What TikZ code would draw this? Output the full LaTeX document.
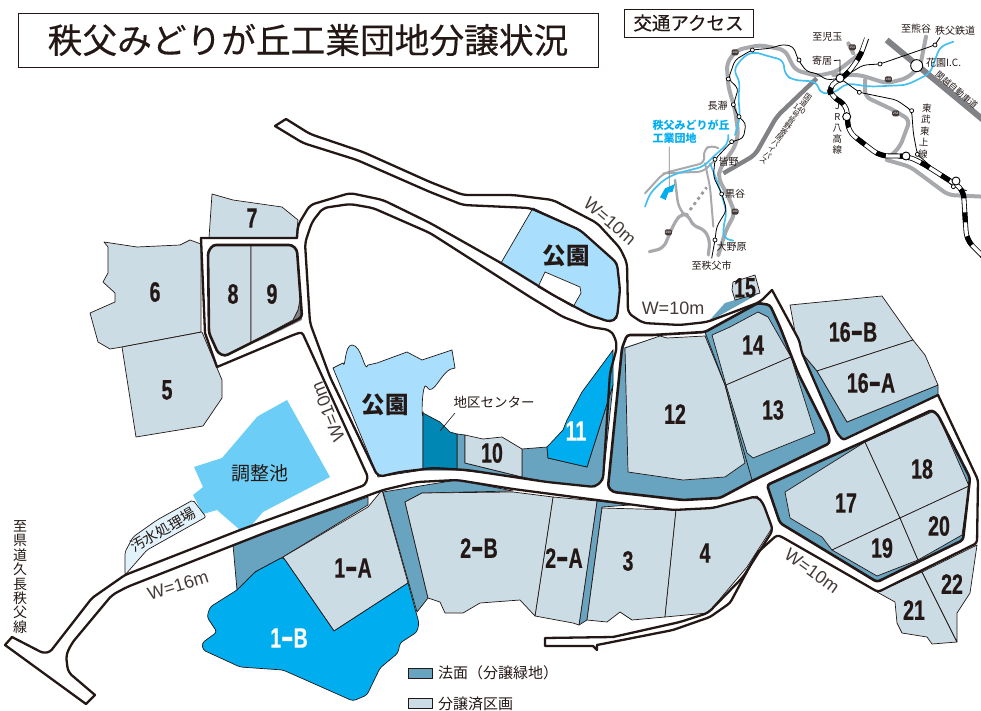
\documentclass[tikz,border=0pt]{standalone}
\usepackage{graphicx}
\usepackage{fontspec}
\setmainfont{Liberation Sans}
\newfontfamily\jp{Noto Sans CJK JP}
\newfontfamily\jpm[FakeBold=0.35]{Noto Sans CJK JP}
\newfontfamily\numf[FakeStretch=0.7,FakeBold=0.5]{Liberation Sans}
\newcommand\fs[1]{\fontsize{#1}{#1}\selectfont}
\newcommand\fsb[2]{\fontsize{#1}{#2}\selectfont}
\newcommand\hy{\scalebox{1.9}[1.2]{-}}
\lineskiplimit=-100pt
\definecolor{lotc}{HTML}{CCDCE5}
\definecolor{slopec}{HTML}{68A3BF}
\definecolor{cyanc}{HTML}{00AEEF}
\definecolor{parkc}{HTML}{A9DFFC}
\definecolor{pondc}{HTML}{6CCDF6}
\definecolor{centerc}{HTML}{0087B4}
\definecolor{inkc}{HTML}{231815}
\definecolor{palec}{HTML}{E1F2FB}
\definecolor{grayr}{HTML}{A7A9AC}
\definecolor{grayd}{HTML}{808285}
\definecolor{riverc}{HTML}{45BFEF}
\tikzset{
 lot/.style={fill=lotc,draw=inkc,line width=.7,line join=round},
 slope/.style={fill=slopec,draw=inkc,line width=.7,line join=round},
 rd/.style={draw=inkc,line width=2.3,line cap=round,line join=round,rounded corners=5},
 blockedge/.style={draw=inkc,line width=2.6,line join=round,rounded corners=3},
 num/.style={font=\numf\bfseries\fs{28},text=inkc,inner sep=0},
 wnum/.style={font=\numf\bfseries\fs{28},text=white,inner sep=0},
 wlab/.style={font=\fs{18},text=inkc!85,inner sep=0},
 parklab/.style={font=\jp\bfseries\fs{23.5},text=inkc,inner sep=0},
 maplab/.style={font=\jp\fs{10},text=inkc,inner sep=0},
 grd/.style={draw=grayr,line width=4,line cap=round,line join=round,rounded corners=6},
 gwide/.style={draw=grayd,line width=4.4,line join=round,rounded corners=6},
 riv/.style={draw=riverc,line width=1.7,line cap=round,line join=round,rounded corners=6},
 rail/.style={draw=black,line width=.8,line join=round,rounded corners=4},
 stn/.style={circle,fill=white,draw=black,line width=.7,inner sep=0,minimum size=4},
 bigstn/.style={circle,fill=white,draw=black,line width=.9,inner sep=0,minimum size=8},
 shield/.style={fill=inkc!85,text=white,font=\fs{3.2},inner sep=.6,rounded corners=1.5,minimum width=7,minimum height=6},
}
\begin{document}
\begin{tikzpicture}[x=1pt,y=-1pt]
\useasboundingbox (0,0) rectangle (981,711);
\clip (0,0) rectangle (981,711);
% ----- slopes and blocks
\path[slope] (233,545) -- (266,533) -- (368,497) -- (368,505) -- (283,557) -- (255,572) -- (237,590) -- cycle;
\path[slope] (383,492) -- (457,480) -- (513,491) -- (422,493) -- (405,502) -- (428,598) -- (417,612) -- cycle;
\path[slope] (597,501) -- (630,505) -- (602,507) -- (587,620) -- (579,625) -- cycle;
\path[slope] (457,434) -- (465,435) -- (465,463) -- (522,477) -- (457,470) -- cycle;
\path[slope] (522,449) -- (547,447) -- (548,458) -- (587,467) -- (613,385) -- (603,480) -- (595,487) -- (547,482) -- (522,477) -- cycle;
\path[fill=slopec] (735,300) -- (760,293) -- (708,322) -- (725,303) -- cycle;
\path[slope] (802,353) -- (817,371) -- (847,422) -- (938,385) -- (938,395) -- (843,440) -- (837,433) -- cycle;
\path[fill=slopec] (622,348) -- (627,335) -- (705,332) -- (758,303) -- (770,305) -- (780,327) -- (798,373) -- (828,433) -- (828,443) -- (750,482) -- (720,498) -- (683,500) -- (613,492) -- (608,487) -- cycle;
\path[fill=white] (622,348) -- (660,336) -- (667,338) -- (705,336) -- (705,332) -- (627,335) -- cycle;
\path[fill=slopec] (767,485) -- (863,442) -- (932,410) -- (938,415) -- (970,478) -- (963,540) -- (877,582) -- (780,523) -- cycle;
% ----- parks, ponds
\path[fill=parkc,draw=inkc,line width=.7] (333,368) -- (343,363) to[out=-70,in=180] (352,345) to[out=0,in=-110] (368,365) -- (377,363) -- (407,352) -- (422,360) -- (452,350) -- (455,368) to[out=180,in=-60] (427,387) to[out=120,in=-100] (423,413) -- (423,470) -- (378,477) -- cycle;
\path[fill=centerc,draw=inkc,line width=.7] (423,413) -- (440,422) -- (450,432) -- (457,434) -- (457,470) -- (423,470) -- cycle;
\path[fill=parkc,draw=inkc,line width=.7] (533,208) -- (580,230) -- (617,263) -- (620,290) -- (617,318) -- (610,322) -- (590,315) -- (553,295) -- (501,263) -- cycle;
\path[fill=white,draw=inkc,line width=.7] (545,272) -- (580,287) -- (581,293) -- (573,307) -- (538,287) -- cycle;
\path[fill=pondc] (287,400) -- (330,477) -- (263,512) -- (250,527) -- (240,530) -- (217,510) -- (203,514) -- (193,495) -- (203,487) -- (194,467) -- (222,458) -- (257,417) -- (260,415) -- cycle;
\path[fill=palec,draw=inkc,line width=.7,rounded corners=2] (193,500) -- (206,517) -- (147,550) -- (125,575) -- (125,552) -- (133,537) -- (157,520) -- cycle;
% ----- lots
\path[lot] (212,194) -- (233,200) -- (282,207) -- (298,220) -- (296,238) -- (209,238) -- cycle;
\path[lot] (104,242) -- (137,247) -- (180,245) -- (190,240) -- (201,244) -- (201,332) -- (122,347) -- (110,349) -- (98,342) -- (90,313) -- (115,302) -- (115,293) -- (103,282) -- (108,273) -- (108,247) -- cycle;
\path[lot] (122,347) -- (202,332) -- (217,368) -- (222,380) -- (222,398) -- (203,426) -- (136,437) -- cycle;
\path[fill=grayd] (300,300) -- (302,320) -- (257,342) -- (293,322) -- cycle;
\path[lot] (213,245) -- (251,245) -- (251,343) -- (225,356) -- (218,353) -- (209,333) -- (208,252) -- cycle;
\path[lot] (251,245) -- (292,245) -- (297,250) -- (300,300) -- (298,310) -- (293,320) -- (251,343) -- cycle;
\path[lot] (465,435) -- (483,439) -- (502,437) -- (522,449) -- (522,477) -- (465,463) -- cycle;
\path[fill=cyanc,draw=inkc,line width=.7] (613,350) -- (582,392) -- (567,420) -- (563,430) -- (547,447) -- (548,458) -- (587,467) -- (613,385) -- cycle;
\path[lot] (625,348) -- (660,336) -- (667,338) -- (705,336) -- (725,385) -- (745,463) -- (725,477) -- (683,480) -- (628,472) -- cycle;
\path[lot] (712,335) -- (730,327) -- (758,312) -- (768,317) -- (791,357) -- (726,385) -- cycle;
\path[lot] (726,385) -- (791,357) -- (815,433) -- (753,458) -- (747,453) -- cycle;
\draw[inkc,line width=.7] (705,332) -- (725,385) -- (752,480);
\path[lot] (733,282) -- (755,275) -- (760,293) -- (735,300) -- (732,290) -- cycle;
\path[lot] (790,305) -- (882,296) -- (913,340) -- (817,371) -- (802,353) -- (799,341) -- (795,332) -- cycle;
\path[lot] (913,340) -- (925,355) -- (938,385) -- (847,422) -- (817,371) -- cycle;
\path[lot] (785,492) -- (865,442) -- (900,518) -- (832,550) -- (822,537) -- (790,518) -- cycle;
\path[lot] (865,442) -- (932,412) -- (938,415) -- (969,486) -- (900,518) -- cycle;
\path[lot] (832,550) -- (900,518) -- (918,560) -- (877,576) -- cycle;
\path[lot] (900,518) -- (969,486) -- (962,535) -- (918,560) -- cycle;
\path[lot] (877,592) -- (895,602) -- (897,623) -- (902,633) -- (927,637) -- (932,644) -- (957,642) -- (922,572) -- cycle;
\path[lot] (922,572) -- (977,545) -- (970,593) -- (957,613) -- (957,642) -- cycle;
\path[lot] (602,508) -- (676,510) -- (665,617) -- (632,620) -- (620,612) -- (607,622) -- (587,620) -- cycle;
\path[lot] (676,510) -- (713,508) -- (757,496) -- (763,503) -- (772,528) -- (747,567) -- (708,613) -- (665,617) -- cycle;
\path[lot] (553,497) -- (597,501) -- (579,625) -- (573,623) -- (535,616) -- cycle;
\path[lot] (405,502) -- (422,493) -- (513,492) -- (553,497) -- (535,616) -- (520,600) -- (480,603) -- (463,613) -- (445,613) -- (440,602) -- (428,598) -- cycle;
\path[lot] (283,557) -- (368,507) -- (382,490) -- (408,583) -- (334,631) -- cycle;
\path[fill=cyanc,draw=inkc,line width=.7,rounded corners=3] (283,557) [sharp corners] -- (334,631) -- (408,583) [rounded corners=3] -- (419,623) -- (417,632) -- (400,643) -- (398,653) -- (380,668) -- (367,695) -- (353,701) -- (283,670) -- (240,667) -- (203,650) -- (202,643) -- (217,632) -- (207,617) -- (210,607) -- (237,590) -- (255,572) -- cycle;
% ----- road edges
\draw[rd] (275,126) -- (286,119);
\draw[rd] (286,119) -- (310,134) -- (363,152) -- (430,182) -- (463,195) -- (513,195) -- (553,200) -- (597,223) -- (620,248) -- (627,263) -- (628,313) -- (643,323) -- (680,325) -- (707,322) -- (760,302) -- (772,290);
\draw[rd,rounded corners=2] (772,290) -- (799,340) -- (802,353) -- (837,433) -- (843,440) -- (938,395);
\draw[rd,rounded corners=3] (938,395) -- (978,480) -- (977,543) -- (878,592) -- (782,537) -- (777,535) -- (757,553) -- (730,603) -- (710,617) -- (673,630) -- (597,645);
\draw[rd,rounded corners=0] (597,645) -- (597,650) -- (593,646) -- (545,646) -- (545,638) -- (613,637);
\draw[rd] (613,637) -- (680,622) -- (708,613) -- (743,577) -- (773,530) -- (763,503) -- (757,496) -- (713,508) -- (673,510) -- (597,500) -- (513,489) -- (457,480) -- (417,482) -- (383,490) -- (267,532) -- (127,587) -- (112,595) -- (72,643) -- (66,655) -- (68,672) -- (95,695);
\draw[rd,rounded corners=0] (95,695) -- (86,704) -- (5,645) -- (12,637);
\draw[rd,rounded corners=3] (12,637) -- (43,653) -- (50,652) -- (92,598) -- (125,575) -- (240,530) -- (365,485) -- (368,477) -- (302,332) -- (293,335) -- (217,367);
\draw[rd,rounded corners=0] (217,367) -- (205,333) -- (201,238) -- (297,238);
\draw[rd] (297,238) -- (298,225) -- (310,205) -- (350,193) -- (383,200) -- (430,223) -- (501,263) -- (553,295) -- (590,315) -- (610,322) -- (617,318) -- (620,290) -- (617,263) -- (580,230) -- (530,208) -- (463,205) -- (430,192) -- (357,160) -- (303,143) -- (275,126);
\draw[rd] (378,477) -- (330,377) -- (310,323) -- (305,243) -- (312,222) -- (323,208) -- (350,204) -- (373,208) -- (430,233) -- (530,297) -- (563,317) -- (590,327) -- (610,330) -- (615,337) -- (617,347) -- (610,373) -- (603,480) -- (595,487) -- (547,482) -- (467,470) -- (433,468) -- (400,472) -- cycle;
% ----- thick block outlines
\draw[blockedge] (213,245) -- (292,245) -- (297,250) -- (302,317) -- (293,322) -- (225,356) -- (218,353) -- (209,333) -- (208,252) -- cycle;
\draw[blockedge] (622,348) -- (627,335) -- (653,335) -- (705,332) -- (758,303) -- (770,305) -- (780,327) -- (798,373) -- (828,433) -- (830,443) -- (750,482) -- (720,498) -- (683,500) -- (613,492) -- (608,487) -- cycle;
\draw[blockedge] (767,485) -- (863,442) -- (932,410) -- (938,415) -- (970,478) -- (963,540) -- (877,582) -- (780,523) -- cycle;
% ----- labels
\node[num] (n6) at (155,292) {6};
\node[num] (n7) at (252,218) {7};
\node[num] (n8) at (233,294) {8};
\node[num] (n9) at (272,294) {9};
\node[num] (n5) at (167,390) {5};
\node[num] (n1a) at (353,568) {1\hy A};
\node[wnum] (n1b) at (289,638) {1\hy B};
\node[num] (n2b) at (479,548) {2\hy B};
\node[num] (n2a) at (564,558) {2\hy A};
\node[num] (n3) at (628,561) {3};
\node[num] (n4) at (705,553) {4};
\node[num] (n10) at (492,453) {10};
\node[wnum] (n11) at (576,431) {11};
\node[num] (n12) at (675,414) {12};
\node[num] (n13) at (773,410) {13};
\node[num] (n14) at (753,345) {14};
\node[num] (n15) at (745,288) {15};
\node[num] (n16b) at (853,332) {16\hy B};
\node[num] (n16a) at (871,383) {16\hy A};
\node[num] (n17) at (846,503) {17};
\node[num] (n18) at (922,469) {18};
\node[num] (n19) at (882,548) {19};
\node[num] (n20) at (939,526) {20};
\node[num] (n21) at (914,610) {21};
\node[num] (n22) at (952,584) {22};
\node[parklab] (parkL) at (385,405) {公園};
\node[parklab] (parkR) at (566,256) {公園};
\node[inner sep=0,font=\jp\fs{19},text=inkc] (pond) at (260,473) {調整池};
\node[inner sep=0,font=\jp\fs{13.5},text=inkc] (ctr) at (494,402) {地区センター};
\coordinate (ctrfoot) at (440,431);
\draw[inkc,line width=.6] (455,413) -- (ctrfoot);
\node[inner sep=0,font=\jp\fs{14.5},text=inkc,rotate=30] (sewage) at (163,530) {汚水処理場};
\node[inner sep=0,align=center,font=\jp\fsb{14}{14.4},text=inkc] (pref) at (20,577) {至\\県\\道\\久\\長\\秩\\父\\線};
\node[wlab,rotate=-41] (w1) at (610,221) {W=10m};
\node[wlab] (w2) at (673,308) {W=10m};
\node[wlab,rotate=17] (w3) at (178,585) {W=16m};
\node[wlab,rotate=112] (w4) at (328,412) {W=10m};
\node[wlab,rotate=-36] (w5) at (812,571) {W=10m};
% ----- title
\node[draw=inkc,line width=.9,fill=white,minimum width=580,minimum height=54,inner sep=0,font=\jpm\fs{34.7},text=inkc] (title) at (308,40) {秩父みどりが丘工業団地分譲状況};
\node[draw=inkc,line width=.9,fill=white,minimum width=129,minimum height=28,inner sep=0,font=\jpm\fs{18.5},text=inkc] (access) at (688.5,23) {交通アクセス};
% ----- legend
\node[draw=inkc,line width=.8,fill=slopec,minimum width=24,minimum height=10,inner sep=0] (legA) at (420,673) {};
\node[anchor=west,inner sep=0,font=\jp\fs{15},text=inkc] (legAt) at (438,673) {法面（分譲緑地）};
\node[draw=inkc,line width=.8,fill=lotc,minimum width=24,minimum height=10,inner sep=0] (legB) at (420,703) {};
\node[anchor=west,inner sep=0,font=\jp\fs{15},text=inkc] (legBt) at (438,704) {分譲済区画};
% ----- access map
\begin{scope}[shift={(620,0)},scale=0.33333]
 \draw[gwide,line width=6] (800,120) -- (1090,360);
 \draw[grd] (295,765) -- (318,690) -- (345,640) -- (325,590) -- (295,535) -- (300,505) -- (345,440) -- (355,400) -- (345,330) -- (325,260) -- (320,190) -- (350,150) -- (420,135) -- (495,150) -- (525,210) -- (590,228) -- (650,215) -- (695,180) -- (715,165);
 \draw[grd] (700,160) -- (685,130);
 \draw[gwide] (310,520) -- (405,465) -- (470,350) -- (590,235);
 \draw[grd] (640,225) -- (720,225) -- (800,250) -- (860,235) -- (900,200) -- (918,110);
 \draw[grd] (735,240) -- (735,290) -- (820,330) -- (870,360) -- (840,440) -- (810,470);
 \draw[grd] (800,480) -- (870,500) -- (985,585) -- (1090,590);
 \draw[grd,line width=2] (75,580) -- (130,520) -- (255,488) -- (250,450) -- (275,435) -- (295,445);
 \draw[grd,line width=2] (130,520) -- (250,515) -- (285,480);
 \draw[grd,line width=2] (255,490) -- (270,560) -- (280,680);
 \draw[grd,line width=3.2] (88,755) -- (130,745) -- (165,665) -- (185,640) -- (205,645) -- (220,680) -- (250,685) -- (270,720) -- (265,765);
 \draw[grd,line width=2.4] (165,540) -- (175,620) -- (190,640);
 \draw[grayd!80,line width=2.8,dash pattern=on 3 off 3.5] (210,630) -- (260,562);
 \draw[riv] (75,620) -- (90,580) -- (130,540) -- (170,520) -- (250,500) -- (280,470) -- (325,430) -- (325,405);
 \draw[riv] (345,405) -- (360,350) -- (355,290) -- (360,245) -- (340,210) -- (370,170) -- (400,155) -- (450,170) -- (490,180) -- (495,225) -- (520,240) -- (590,245) -- (600,280) -- (640,280) -- (680,250) -- (750,260) -- (860,255) -- (930,220) -- (960,140) -- (1000,125);
 \draw[riv] (270,490) -- (290,540) -- (310,600) -- (320,640) -- (310,680) -- (310,715) -- (340,722);
 \draw[rail] (275,775) -- (285,720) -- (290,680) -- (320,630) -- (305,580) -- (280,530) -- (285,478) -- (335,425) -- (370,415) -- (378,370) -- (355,350) -- (340,315) -- (355,265) -- (325,237) -- (345,180) -- (395,150) -- (450,145) -- (490,133) -- (520,140) -- (535,180) -- (560,215) -- (590,220) -- (620,240) -- (660,235);
 \draw[rail] (660,235) -- (680,225) -- (730,195) -- (780,192) -- (945,135) -- (960,112);
 \draw[rail] (660,235) -- (718,277) -- (830,300) -- (875,332) -- (880,400) -- (892,463) -- (1000,560) -- (1040,572);
 \draw[draw=black,line width=5,rounded corners=8] (740,115) -- (720,170) -- (680,225) -- (625,260) -- (635,290) -- (680,315) -- (685,395) -- (730,430) -- (780,468) -- (858,468) -- (900,485) -- (1030,568) -- (1035,650) -- (1040,720) -- (1090,770);
 \draw[draw=white,line width=3.4,rounded corners=8] (740,113) -- (720,170) -- (680,225) -- (625,260) -- (635,290) -- (680,315) -- (685,395) -- (730,430) -- (780,468) -- (858,468) -- (900,485) -- (1030,568) -- (1035,650) -- (1040,720) -- (1090,770);
 \draw[draw=black,line width=5,rounded corners=8,dash pattern=on 10 off 14,dash phase=-14] (740,115) -- (720,170) -- (680,225) -- (625,260) -- (635,290) -- (680,315) -- (685,395) -- (730,430) -- (780,468) -- (858,468) -- (900,485) -- (1030,568) -- (1035,650) -- (1040,720) -- (1090,770);
 \node[stn] (s1) at (285,720) {}; \node[stn] (s2) at (305,582) {}; \node[stn] (s3) at (285,478) {};
 \node[stn] (s4) at (335,425) {}; \node[stn] (s5) at (357,350) {}; \node[stn] (s6) at (340,314) {};
 \node[stn] (s7) at (325,237) {}; \node[stn] (s8) at (397,150) {}; \node[stn] (s9) at (537,180) {};
 \node[stn] (s10) at (780,192) {}; \node[stn] (s11) at (945,135) {}; \node[stn] (s12) at (718,277) {};
 \node[stn] (s13) at (875,332) {}; \node[stn] (s14) at (892,463) {}; \node[stn] (s15) at (1000,560) {};
 \node[bigstn] (b1) at (660,235) {}; \node[bigstn] (b2) at (680,350) {}; \node[bigstn] (b3) at (858,468) {}; \node[bigstn] (b4) at (1008,543) {};
 \node[bigstn,minimum size=12] (ic) at (890,197) {};
 \node[shield] (r1) at (345,157) {140}; \node[shield] (r2) at (697,142) {254}; \node[shield] (r3) at (805,238) {140};
 \node[shield] (r4) at (827,340) {254}; \node[shield] (r5) at (345,635) {140}; \node[shield] (r6) at (145,697) {299};
 \path[fill=cyanc] (135,565) -- (165,552) -- (158,575) -- (145,578) -- (137,600) -- (120,592) -- cycle;
 \node[anchor=west,inner sep=0,align=left,font=\jp\bfseries\fsb{11}{13},text=cyanc] (mid) at (97,395) {秩父みどりが丘\\工業団地};
 \coordinate (midfoot) at (148,565);
 \draw[grayd,line width=.8] (148,440) -- (midfoot);
 \node[maplab] (l1) at (888,85) {至熊谷};
 \node[maplab] (l2) at (1005,92) {秩父鉄道};
 \node[maplab] (l3) at (622,112) {至児玉};
 \node[maplab] (l4) at (606,182) {寄居};
 \draw[black,line width=.7] (l4.east)++(5,0) -- (660,180) -- (b1);
 \node[maplab,anchor=west] (l5) at (918,187) {花園I.C.};
 \node[maplab] (l6) at (293,317) {長瀞};
 \node[maplab,font=\jp\fsb{9.5}{11.2},align=center] (l7) at (652,385) {J\\R\\八\\高\\線};
 \node[maplab,font=\jp\fsb{9.5}{11.5},align=center,rotate=-5] (l8) at (915,393) {東\\武\\東\\上\\線};
 \node[maplab] (l9) at (326,485) {皆野};
 \node[maplab] (l10) at (345,582) {黒谷};
 \node[maplab] (l11) at (335,740) {大野原};
 \node[maplab] (l12) at (275,798) {至秩父市};
 \node[maplab,font=\jp\fs{8.6},rotate=-40] (l13) at (1010,270) {関越自動車道};
 \node[maplab,font=\jp\fsb{7.5}{7},align=center,rotate=-35] (l14) at (497,387) {国\\道\\140\\号\\皆\\野\\寄\\居\\バ\\イ\\パ\\ス};
\end{scope}
\end{tikzpicture}
\end{document}
